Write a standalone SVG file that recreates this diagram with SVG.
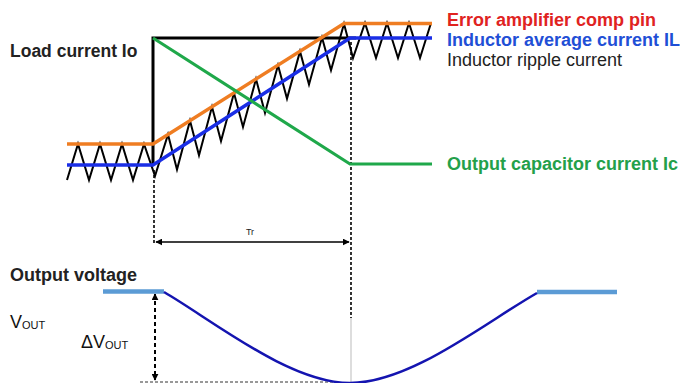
<svg xmlns="http://www.w3.org/2000/svg" width="680" height="383" viewBox="0 0 680 383">
<defs>
<style>
.lbl{font-family:"Liberation Sans",Arial,sans-serif;font-size:18px;font-weight:bold}
.reg{font-family:"Liberation Sans",Arial,sans-serif;font-size:18px}
.dash{fill:none;stroke:#000;stroke-width:1.6;stroke-dasharray:3 2}
</style>
<marker id="ah" viewBox="0 0 10 10" refX="9" refY="5" markerWidth="7" markerHeight="7" orient="auto-start-reverse" markerUnits="userSpaceOnUse">
<path d="M0,0 L10,5 L0,10 Z" fill="#000"/>
</marker>
</defs>
<rect width="680" height="383" fill="#fff"/>

<g id="labels">
<text class="lbl" x="10" y="57" fill="#222" style="font-size:17.5px">Load current Io</text>
<text class="lbl" x="447" y="26" fill="#e0231f">Error amplifier comp pin</text>
<text class="lbl" x="447" y="46" fill="#1f4fd6">Inductor average current IL</text>
<text class="reg" x="447" y="66" fill="#222">Inductor ripple current</text>
<text class="lbl" x="447" y="170" fill="#23a04a">Output capacitor current Ic</text>
<text class="lbl" x="10" y="281" fill="#222">Output voltage</text>
<text class="reg" x="10" y="328" fill="#111">V<tspan style="font-size:11px" dy="1">OUT</tspan></text>
<text class="reg" x="81" y="348" fill="#111">ΔV<tspan style="font-size:11px" dy="1">OUT</tspan></text>
<text x="250" y="235" fill="#222" text-anchor="middle" style="font-family:'Liberation Sans',Arial,sans-serif;font-size:9px">Tr</text>
</g>

<g id="connectors">
<path class="dash" d="M154,170 V245"/>
<path class="dash" d="M351,42 V318"/>
<path d="M351,318 V383" stroke="#ddd" stroke-width="2" fill="none"/>
<path d="M156,242 H349" stroke="#000" stroke-width="1.5" fill="none" marker-start="url(#ah)" marker-end="url(#ah)"/>
<path d="M155,294 V380" stroke="#000" stroke-width="2" stroke-dasharray="4 3" fill="none" marker-start="url(#ah)" marker-end="url(#ah)"/>
<path d="M140,382 H340" stroke="#777" stroke-width="1.5" stroke-dasharray="3 2" fill="none"/>
</g>

<g id="ripple">
<path fill="none" stroke="#000" stroke-width="2" stroke-linejoin="miter" d="M67,180 L78,144 L89,180 L100,144 L111,180 L122,144 L133,180 L144,144 L155,176 L168,134.5 L177,169.5 L190,120.7 L199,155.3 L212,106.8 L221,141 L234,93 L243,127 L256,79.1 L265,112.8 L278,65.3 L287,98.6 L300,51.4 L309,84.4 L322,37.5 L331,70.2 L344,23.7 L353,58 L365,23 L376,58 L387,23 L398,58 L409,23 L420,58 L431,23"/>
</g>

<g id="load-current">
<path d="M153,165 V38 H356" fill="none" stroke="#000" stroke-width="3"/>
</g>

<g id="comp-pin">
<path d="M67,144 H153 L344,23.5 H432" fill="none" stroke="#ef7d22" stroke-width="3.5"/>
</g>

<g id="inductor-avg">
<path d="M67,165 H153 L350,38 H432" fill="none" stroke="#1a2ee6" stroke-width="3.5"/>
</g>

<g id="cap-current">
<path d="M153,38 L350,164 H432" fill="none" stroke="#1fa84a" stroke-width="3"/>
</g>

<g id="vout">
<path d="M103,291.5 H164" stroke="#5b9bd5" stroke-width="4.5" fill="none"/>
<path d="M537,292 H617" stroke="#5b9bd5" stroke-width="4.5" fill="none"/>
<path d="M164,292 C215,322 290,383 350,383 C411,383 486,322 537,293" fill="none" stroke="#1414b0" stroke-width="2.5"/>
</g>
</svg>
